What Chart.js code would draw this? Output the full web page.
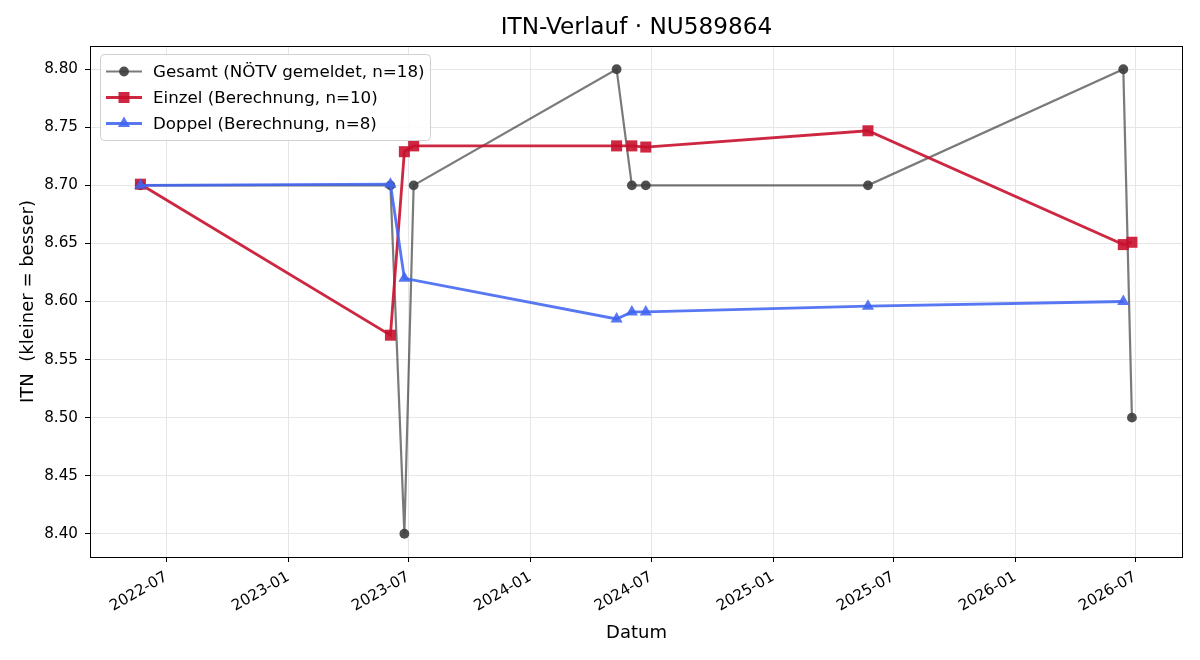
<!DOCTYPE html>
<html>
<head>
<meta charset="utf-8">
<title>ITN-Verlauf</title>
<script src="https://cdn.jsdelivr.net/npm/chart.js@4.4.1/dist/chart.umd.min.js"></script>
<style>
  body { margin: 0; background: #fff; }
  canvas { display: block; }
</style>
</head>
<body>
<canvas id="itnChart" width="1200" height="660"></canvas>
<script>
// --- data ---
var gesamtDates = ['2022-05-23', '2023-06-04', '2023-06-25', '2023-07-09', '2024-05-10', '2024-06-02', '2024-06-23', '2025-05-24', '2026-06-13', '2026-06-26'];
var gesamtValues = [8.70, 8.70, 8.40, 8.70, 8.80, 8.70, 8.70, 8.70, 8.80, 8.50];

var einzelDates = ['2022-05-23', '2023-06-04', '2023-06-25', '2023-07-09', '2024-05-10', '2024-06-02', '2024-06-23', '2025-05-24', '2026-06-13', '2026-06-26'];
var einzelValues = [8.701, 8.571, 8.729, 8.734, 8.734, 8.734, 8.733, 8.747, 8.649, 8.651];

var doppelDates = ['2022-05-23', '2023-06-04', '2023-06-25', '2024-05-10', '2024-06-02', '2024-06-23', '2025-05-24', '2026-06-13'];
var doppelValues = [8.700, 8.701, 8.620, 8.585, 8.591, 8.591, 8.596, 8.600];

var xTickDates = ['2022-07-01', '2023-01-01', '2023-07-01', '2024-01-01', '2024-07-01', '2025-01-01', '2025-07-01', '2026-01-01', '2026-07-01'];
var yTicks = [8.40, 8.45, 8.50, 8.55, 8.60, 8.65, 8.70, 8.75, 8.80];

var seriesLabels = ['Gesamt (NÖTV gemeldet, n=18)', 'Einzel (Berechnung, n=10)', 'Doppel (Berechnung, n=8)'];

// dates -> day numbers (linear axis, no date adapter available)
function dayNum(s) {
  var p = s.split('-');
  return Date.UTC(+p[0], +p[1] - 1, +p[2]) / 86400000;
}
function toPoints(dates, vals) {
  return dates.map(function (d, i) { return { x: dayNum(d), y: vals[i] }; });
}
function dayLabel(v) {
  var d = new Date(v * 86400000);
  var m = d.getUTCMonth() + 1;
  return d.getUTCFullYear() + '-' + (m < 10 ? '0' + m : m);
}

var GREY_LINE = 'rgba(0,0,0,0.52)';
var GREY_PT = 'rgba(60,60,60,0.9)';
var RED = 'rgba(200,16,46,0.9)';
var BLUE = 'rgba(65,100,240,0.88)';

var styles = [
  { color: GREY_LINE, pt: GREY_PT, width: 2.2, marker: 'circle' },
  { color: RED, pt: RED, width: 2.8, marker: 'rect' },
  { color: BLUE, pt: BLUE, width: 2.8, marker: 'triangle' }
];

function drawMarker(ctx, kind, x, y, color) {
  ctx.fillStyle = color;
  ctx.beginPath();
  if (kind === 'circle') {
    ctx.arc(x, y, 4.9, 0, Math.PI * 2);
  } else if (kind === 'rect') {
    ctx.rect(x - 5.5, y - 5.5, 11, 11);
  } else {
    ctx.moveTo(x, y - 7);
    ctx.lineTo(x + 6.1, y + 3.5);
    ctx.lineTo(x - 6.1, y + 3.5);
    ctx.closePath();
  }
  ctx.fill();
}

var decorPlugin = {
  id: 'decor',
  afterDraw: function (chart) {
    var ctx = chart.ctx;
    var a = chart.chartArea;
    ctx.save();
    // frame
    ctx.strokeStyle = '#000';
    ctx.lineWidth = 1;
    ctx.strokeRect(Math.round(a.left) + 0.5, Math.round(a.top) + 0.5, Math.round(a.right - a.left) - 1, Math.round(a.bottom - a.top));

    // title
    ctx.fillStyle = '#000';
    ctx.textAlign = 'center';
    ctx.textBaseline = 'middle';
    ctx.font = '23.2px "DejaVu Sans"';
    ctx.fillText('ITN-Verlauf · NU589864', (a.left + a.right) / 2, 28);

    // axis titles
    ctx.font = '18px "DejaVu Sans"';
    ctx.fillText('Datum', (a.left + a.right) / 2, 633);
    ctx.save();
    ctx.translate(28.5, (a.top + a.bottom) / 2);
    ctx.rotate(-Math.PI / 2);
    ctx.fillText('ITN  (kleiner = besser)', 0, 0);
    ctx.restore();

    // legend
    var bx = 100, by = 54, bw = 330, bh = 86;
    ctx.beginPath();
    ctx.roundRect(bx + 0.5, by + 0.5, bw, bh, 4);
    ctx.fillStyle = 'rgba(255,255,255,0.85)';
    ctx.fill();
    ctx.strokeStyle = '#d0d0d0';
    ctx.lineWidth = 1;
    ctx.stroke();
    ctx.textAlign = 'left';
    ctx.font = '16.7px "DejaVu Sans"';
    for (var i = 0; i < 3; i++) {
      var ly = 71.5 + i * 26;
      var s = styles[i];
      ctx.strokeStyle = s.color;
      ctx.lineWidth = s.width;
      ctx.beginPath();
      ctx.moveTo(106, ly);
      ctx.lineTo(142, ly);
      ctx.stroke();
      drawMarker(ctx, s.marker, 124, ly, s.pt);
      ctx.fillStyle = '#000';
      ctx.fillText(seriesLabels[i], 153, ly + 1);
    }
    ctx.restore();
  }
};

Chart.defaults.font.family = '"DejaVu Sans"';
Chart.defaults.color = '#000';

var ctx = document.getElementById('itnChart').getContext('2d');
var itnChart = new Chart(ctx, {
  type: 'line',
  data: {
    datasets: [
      {
        label: seriesLabels[0],
        data: toPoints(gesamtDates, gesamtValues),
        borderColor: GREY_LINE,
        borderWidth: 2.2,
        pointStyle: 'circle',
        pointRadius: 4.9,
        pointBackgroundColor: GREY_PT,
        pointBorderWidth: 0,
        order: 3
      },
      {
        label: seriesLabels[1],
        data: toPoints(einzelDates, einzelValues),
        borderColor: RED,
        borderWidth: 2.8,
        pointStyle: 'rect',
        pointRadius: 7.8,
        pointBackgroundColor: RED,
        pointBorderWidth: 0,
        order: 2
      },
      {
        label: seriesLabels[2],
        data: toPoints(doppelDates, doppelValues),
        borderColor: BLUE,
        borderWidth: 2.8,
        pointStyle: 'triangle',
        pointRadius: 7,
        pointBackgroundColor: BLUE,
        pointBorderWidth: 0,
        order: 1
      }
    ]
  },
  options: {
    responsive: false,
    animation: false,
    layout: { padding: { top: 46, right: 17, bottom: 0, left: 0 } },
    plugins: {
      legend: { display: false },
      title: { display: false },
      tooltip: { enabled: false }
    },
    scales: {
      x: {
        type: 'linear',
        min: dayNum('2022-03-08'),
        max: dayNum('2026-09-11'),
        afterBuildTicks: function (scale) {
          scale.ticks = xTickDates.map(function (d) { return { value: dayNum(d) }; });
        },
        afterFit: function (scale) { scale.height = 103; },
        ticks: {
          autoSkip: false,
          minRotation: 30,
          maxRotation: 30,
          padding: 6,
          font: { size: 15.2 },
          callback: function (v) { return dayLabel(v); }
        },
        grid: { color: '#e6e6e6', tickColor: '#000', tickLength: 5, lineWidth: 1 },
        border: { display: false }
      },
      y: {
        min: 8.38,
        max: 8.82,
        afterBuildTicks: function (scale) {
          scale.ticks = yTicks.map(function (v) { return { value: v }; });
        },
        afterFit: function (scale) { scale.width = 90; },
        ticks: {
          padding: 7,
          font: { size: 15.2 },
          callback: function (v) { return v.toFixed(2); }
        },
        grid: { color: '#e6e6e6', tickColor: '#000', tickLength: 5, lineWidth: 1 },
        border: { display: false }
      }
    }
  },
  plugins: [decorPlugin]
});
</script>
</body>
</html>
